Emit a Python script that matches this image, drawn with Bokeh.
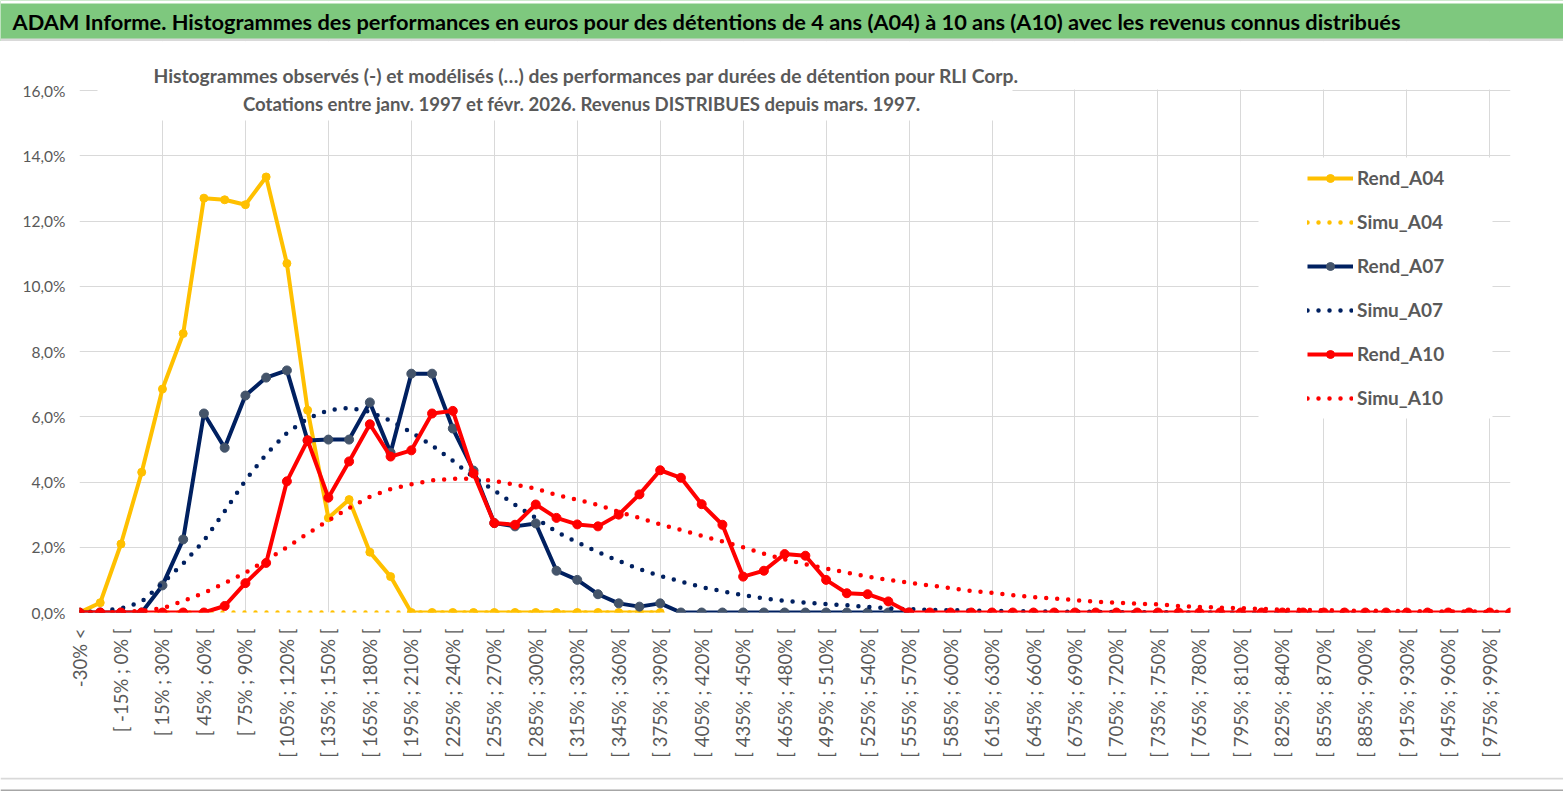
import math
from bokeh.plotting import figure
from bokeh.layouts import column
from bokeh.models import FixedTicker, Legend, LegendItem, BoxAnnotation, Label, Range1d
from bokeh.embed import file_html
from bokeh.resources import INLINE

# ---------------- data ----------------
categories = [
    "-30% <", "[ -30% ; -15% [", "[ -15% ; 0% [", "[ 0% ; 15% [", "[ 15% ; 30% [",
    "[ 30% ; 45% [", "[ 45% ; 60% [", "[ 60% ; 75% [", "[ 75% ; 90% [", "[ 90% ; 105% [",
    "[ 105% ; 120% [", "[ 120% ; 135% [", "[ 135% ; 150% [", "[ 150% ; 165% [", "[ 165% ; 180% [",
    "[ 180% ; 195% [", "[ 195% ; 210% [", "[ 210% ; 225% [", "[ 225% ; 240% [", "[ 240% ; 255% [",
    "[ 255% ; 270% [", "[ 270% ; 285% [", "[ 285% ; 300% [", "[ 300% ; 315% [", "[ 315% ; 330% [",
    "[ 330% ; 345% [", "[ 345% ; 360% [", "[ 360% ; 375% [", "[ 375% ; 390% [", "[ 390% ; 405% [",
    "[ 405% ; 420% [", "[ 420% ; 435% [", "[ 435% ; 450% [", "[ 450% ; 465% [", "[ 465% ; 480% [",
    "[ 480% ; 495% [", "[ 495% ; 510% [", "[ 510% ; 525% [", "[ 525% ; 540% [", "[ 540% ; 555% [",
    "[ 555% ; 570% [", "[ 570% ; 585% [", "[ 585% ; 600% [", "[ 600% ; 615% [", "[ 615% ; 630% [",
    "[ 630% ; 645% [", "[ 645% ; 660% [", "[ 660% ; 675% [", "[ 675% ; 690% [", "[ 690% ; 705% [",
    "[ 705% ; 720% [", "[ 720% ; 735% [", "[ 735% ; 750% [", "[ 750% ; 765% [", "[ 765% ; 780% [",
    "[ 780% ; 795% [", "[ 795% ; 810% [", "[ 810% ; 825% [", "[ 825% ; 840% [", "[ 840% ; 855% [",
    "[ 855% ; 870% [", "[ 870% ; 885% [", "[ 885% ; 900% [", "[ 900% ; 915% [", "[ 915% ; 930% [",
    "[ 930% ; 945% [", "[ 945% ; 960% [", "[ 960% ; 975% [", "[ 975% ; 990% [", "> 990%",
]

rend_a04 = [0.0, 0.3, 2.1, 4.3, 6.85, 8.55, 12.7, 12.65, 12.5, 13.35,
            10.7, 6.2, 2.9, 3.46, 1.85, 1.1, 0.0, 0.0, 0.0, 0.0,
            0.0, 0.0, 0.0, 0.0, 0.0, 0.0, 0.0, 0.0, 0.0]
simu_a04 = [0.0, 0.0, 0.0, 0.0, 0.0, 0.0, 0.0, 0.0, 0.0, 0.0,
            0.0, 0.0, 0.0, 0.0, 0.0, 0.0, 0.0, 0.0, 0.0, 0.0,
            0.0, 0.0, 0.0, 0.0, 0.0, 0.0, 0.0, 0.0, 0.0]
rend_a07 = [0.0, 0.0, 0.0, 0.0, 0.83, 2.24, 6.1, 5.05, 6.65, 7.2,
            7.42, 5.27, 5.3, 5.3, 6.44, 4.9, 7.32, 7.32, 5.64, 4.35,
            2.74, 2.64, 2.73, 1.28, 1.0, 0.56, 0.28, 0.18, 0.28, 0.0,
            0.0, 0.0, 0.0, 0.0, 0.0, 0.0, 0.0, 0.0, 0.0, 0.0, 0.0]
simu_a07 = [0.0, 0.05, 0.12, 0.33, 0.9, 1.5, 2.2, 3.1, 4.05, 4.85,
            5.5, 5.95, 6.2, 6.27, 6.15, 5.88, 5.52, 5.12, 4.65, 4.15,
            3.74, 3.3, 2.9, 2.47, 2.15, 1.85, 1.58, 1.33, 1.12, 0.95,
            0.78, 0.65, 0.53, 0.43, 0.36, 0.3, 0.26, 0.22, 0.17, 0.13,
            0.1, 0.08, 0.07, 0.06, 0.05, 0.04, 0.03, 0.03, 0.02, 0.02,
            0.01, 0.01, 0.01, 0.0, 0.0, 0.0, 0.0, 0.0, 0.0, 0.0,
            0.0, 0.0, 0.0, 0.0, 0.0, 0.0, 0.0, 0.0, 0.0, 0.0]
rend_a10 = [0.0, 0.0, 0.0, 0.0, 0.0, 0.0, 0.0, 0.2, 0.9, 1.52,
            4.02, 5.28, 3.52, 4.63, 5.77, 4.78, 4.97, 6.1, 6.18, 4.26,
            2.74, 2.69, 3.31, 2.9, 2.7, 2.64, 3.0, 3.62, 4.36, 4.13,
            3.32, 2.69, 1.1, 1.28, 1.79, 1.74, 1.0, 0.59, 0.56, 0.34,
            0.0, 0.0, 0.0, 0.0, 0.0, 0.0, 0.0, 0.0, 0.0, 0.0,
            0.0, 0.0, 0.0, 0.0, 0.0, 0.0, 0.0, 0.0, 0.0, 0.0,
            0.0, 0.0, 0.0, 0.0, 0.0, 0.0, 0.0, 0.0, 0.0, 0.0]
simu_a10 = [0.0, 0.0, 0.01, 0.05, 0.13, 0.35, 0.6, 0.9, 1.22, 1.6,
            2.0, 2.42, 2.82, 3.2, 3.55, 3.78, 3.93, 4.05, 4.1, 4.1,
            4.03, 3.92, 3.8, 3.6, 3.46, 3.3, 3.08, 2.9, 2.7, 2.53,
            2.35, 2.18, 2.0, 1.8, 1.63, 1.48, 1.35, 1.22, 1.1, 1.0,
            0.91, 0.83, 0.75, 0.66, 0.6, 0.53, 0.47, 0.43, 0.38, 0.33,
            0.3, 0.27, 0.25, 0.2, 0.17, 0.15, 0.13, 0.11, 0.09, 0.08,
            0.07, 0.06, 0.05, 0.05, 0.04, 0.04, 0.03, 0.03, 0.02, 0.02]

y_ticks = [0, 2, 4, 6, 8, 10, 12, 14, 16]
y_tick_labels = ["0,0%", "2,0%", "4,0%", "6,0%", "8,0%", "10,0%", "12,0%", "14,0%", "16,0%"]

title_text = ("ADAM Informe. Histogrammes des performances en euros pour des détentions "
              "de 4 ans (A04) à 10 ans (A10) avec les revenus connus distribués")
subtitle_1 = ("Histogrammes observés (-)  et modélisés (…) des performances par durées "
              "de détention pour RLI Corp.")
subtitle_2 = "Cotations entre janv. 1997 et févr. 2026. Revenus DISTRIBUES depuis mars. 1997."

# ---------------- style ----------------
FONT = "Lato"
YEL = "#FFC000"
NAVY = "#002060"
NAVY_MK = "#44546A"
RED = "#FF0000"
GRID = "#D9D9D9"
TXT = "#595959"
GREEN = "#7EC87E"

W = 1563
TOP_H = 41              # title band: page y 0..41
MAIN_H = 736            # main chart: page y 41..777
BOT_H = 14              # bottom border strip: page y 777..791
Y_TOP_REF = TOP_H
Y_ZERO_REF = 612        # page y of 0 %
Y_16_REF = 90           # page y of 16 %
FX0, FX1 = 79, 1510     # page x of first / last category
px_per_unit = (Y_ZERO_REF - Y_16_REF) / 16.0
y_max = 16 + (Y_16_REF - Y_TOP_REF) / px_per_unit

# ---------------- title band figure ----------------
t = figure(width=W, height=TOP_H, output_backend="svg", toolbar_location=None,
           x_range=Range1d(0, W), y_range=Range1d(0, TOP_H),
           min_border_left=0, min_border_right=0, min_border_top=0, min_border_bottom=0)
t.frame_align = False
t.axis.visible = False
t.grid.visible = False
t.outline_line_color = None
t.background_fill_color = GREEN
t.border_fill_color = GREEN
t.add_layout(BoxAnnotation(left=0, right=W, top=3, bottom=0, fill_color="#D9D9D9",
                           fill_alpha=1, line_color=None))
t.add_layout(BoxAnnotation(left=0, right=W, top=TOP_H, bottom=TOP_H - 3, fill_color="white",
                           fill_alpha=1, line_color=None))
t.add_layout(Label(x=12, y=TOP_H - 21, x_units="data", y_units="data", text=title_text,
                   text_font=FONT, text_font_style="bold", text_font_size="21.8px",
                   text_color="black", text_align="left", text_baseline="middle"))

# ---------------- main figure ----------------
p = figure(width=W, height=MAIN_H, output_backend="svg", toolbar_location=None,
           x_range=Range1d(0, len(categories) - 1), y_range=Range1d(0, y_max),
           min_border_left=FX0, min_border_right=W - FX1, min_border_top=0,
           min_border_bottom=MAIN_H - (Y_ZERO_REF - Y_TOP_REF))
p.frame_align = False
p.outline_line_color = None
p.background_fill_color = "white"
p.border_fill_color = "white"

# axes
p.xaxis.ticker = FixedTicker(ticks=list(range(0, len(categories) - 1, 2)))
p.xaxis.major_label_overrides = {i: categories[i] for i in range(0, len(categories) - 1, 2)}
p.xaxis.major_label_orientation = math.pi / 2
p.xaxis.major_label_text_font = FONT
p.xaxis.major_label_text_font_size = "18.5px"
p.xaxis.major_label_text_color = TXT
p.xaxis.major_label_standoff = 16
p.xaxis.axis_line_color = None
p.xaxis.major_tick_line_color = None
p.xaxis.minor_tick_line_color = None
p.xaxis.major_tick_out = 0

p.yaxis.ticker = FixedTicker(ticks=y_ticks)
p.yaxis.major_label_overrides = dict(zip(y_ticks, y_tick_labels))
p.yaxis.major_label_text_font = FONT
p.yaxis.major_label_text_font_size = "15.5px"
p.yaxis.major_label_text_color = TXT
p.yaxis.major_label_standoff = 14
p.yaxis.axis_line_color = None
p.yaxis.major_tick_line_color = None
p.yaxis.minor_tick_line_color = None
p.yaxis.major_tick_out = 0

p.xgrid.ticker = FixedTicker(ticks=list(range(0, len(categories) - 1, 4)))
p.xgrid.grid_line_color = GRID
p.ygrid.grid_line_color = GRID

# series
def xs(vals):
    return list(range(len(vals)))

DOT = "0 11"
r_a04 = p.line(xs(rend_a04), rend_a04, line_color=YEL, line_width=4, line_join="round")
m_a04 = p.scatter(xs(rend_a04), rend_a04, size=8, fill_color=YEL, line_color=YEL)
s_a04 = p.line(xs(simu_a04), simu_a04, line_color=YEL, line_width=4.5, line_dash=DOT, line_cap="round")
r_a07 = p.line(xs(rend_a07), rend_a07, line_color=NAVY, line_width=4, line_join="round")
m_a07 = p.scatter(xs(rend_a07), rend_a07, size=9, fill_color=NAVY_MK, line_color=NAVY_MK)
s_a07 = p.line(xs(simu_a07), simu_a07, line_color=NAVY, line_width=4.5, line_dash=DOT, line_cap="round")
r_a10 = p.line(xs(rend_a10), rend_a10, line_color=RED, line_width=4, line_join="round")
m_a10 = p.scatter(xs(rend_a10), rend_a10, size=9, fill_color=RED, line_color=RED)
s_a10 = p.line(xs(simu_a10), simu_a10, line_color=RED, line_width=4.5, line_dash=DOT, line_cap="round")

# frame-relative screen helpers (page pixel -> frame screen units)
def sx(X):
    return X - FX0

def sy(Y):
    return Y_ZERO_REF - Y

def box(x0, y0, x1, y1, color):
    return BoxAnnotation(left=sx(x0), right=sx(x1), top=sy(y0), bottom=sy(y1),
                         left_units="screen", right_units="screen",
                         top_units="screen", bottom_units="screen",
                         fill_color=color, fill_alpha=1.0, line_color=None)

# blank area above the 16 % line, subtitle box and legend box
p.add_layout(box(60, 30, 1560, Y_16_REF - 1, "white"))
p.add_layout(box(97, 58, 1012, 120, "white"))
p.add_layout(box(1258, 157, 1492, 418, "white"))

p.add_layout(Label(x=sx(588), y=sy(75), x_units="screen", y_units="screen", text=subtitle_1,
                   text_font=FONT, text_font_style="bold", text_font_size="19.3px",
                   text_color=TXT, text_align="center", text_baseline="middle"))
p.add_layout(Label(x=sx(581), y=sy(103), x_units="screen", y_units="screen", text=subtitle_2,
                   text_font=FONT, text_font_style="bold", text_font_size="18.6px",
                   text_color=TXT, text_align="center", text_baseline="middle"))

legend = Legend(items=[
    LegendItem(label="Rend_A04", renderers=[r_a04, m_a04]),
    LegendItem(label="Simu_A04", renderers=[s_a04]),
    LegendItem(label="Rend_A07", renderers=[r_a07, m_a07]),
    LegendItem(label="Simu_A07", renderers=[s_a07]),
    LegendItem(label="Rend_A10", renderers=[r_a10, m_a10]),
    LegendItem(label="Simu_A10", renderers=[s_a10]),
], location=(sx(1307), sy(409)))
legend.label_text_font = FONT
legend.label_text_font_style = "bold"
legend.label_text_font_size = "19px"
legend.label_text_color = TXT
legend.glyph_width = 46
legend.glyph_height = 20
legend.label_height = 20
legend.spacing = 21
legend.padding = 0
legend.margin = 0
legend.label_standoff = 4
legend.background_fill_alpha = 0
legend.border_line_color = None
p.add_layout(legend)

# ---------------- bottom border strip ----------------
b = figure(width=W, height=BOT_H, output_backend="svg", toolbar_location=None,
           x_range=Range1d(0, W), y_range=Range1d(0, BOT_H),
           min_border_left=0, min_border_right=0, min_border_top=0, min_border_bottom=0)
b.frame_align = False
b.axis.visible = False
b.grid.visible = False
b.outline_line_color = None
b.background_fill_color = "white"
b.border_fill_color = "white"
b.add_layout(BoxAnnotation(left=0, right=W, top=BOT_H, bottom=BOT_H - 2, fill_color="#D9D9D9",
                           fill_alpha=1, line_color=None))
b.add_layout(BoxAnnotation(left=0, right=W, top=2, bottom=0, fill_color="#A6A6A6",
                           fill_alpha=1, line_color=None))

layout = column(t, p, b, spacing=0)
open("out.html", "w").write(file_html(layout, INLINE))
